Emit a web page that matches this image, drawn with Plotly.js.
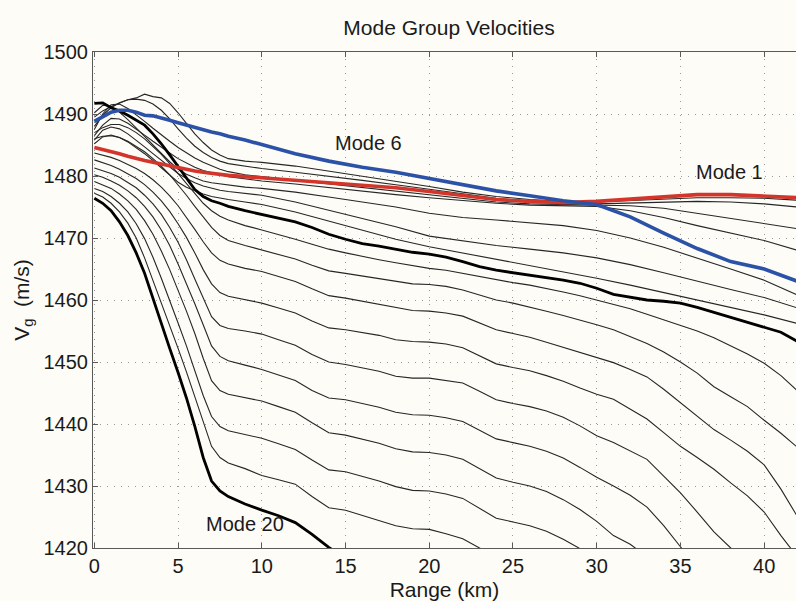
<!DOCTYPE html>
<html>
<head>
<meta charset="utf-8">
<script src="https://cdn.plot.ly/plotly-3.0.1.min.js"></script>
<style>html,body{margin:0;padding:0;background:#fdfcf7;}#chart{width:796px;height:601px;}</style>
</head>
<body>
<div id="chart"></div>
<script>
// Range grids (km)
const rangeFine = [0,0.5,1,1.5,2,2.5,3,3.5,4,4.5,5,5.5,6,6.5,7,7.5,8,9,10,11,12,13,14,15,16,17,18,19,20,21,22,23,24,25,26,27,28,29,30,31,32,33,34,35,36,37,38,39,40,41,42];
const rangeCoarse = [0,0.5,1,1.5,2,2.5,3,3.5,4,4.5,5,5.5,6,6.5,7,7.5,8,9,10,12,14,16,18,20,22,24,26,28,30,32,34,36,38,40,42];

// Group velocities (m/s) on rangeCoarse
const mode1 = [1484.6,1484.3,1484.0,1483.6,1483.2,1482.8,1482.5,1482.2,1481.9,1481.6,1481.3,1481.0,1480.8,1480.6,1480.4,1480.2,1480.1,1479.9,1479.7,1479.4,1479.0,1478.6,1478.1,1477.5,1476.8,1476.2,1475.9,1475.7,1475.9,1476.3,1476.7,1477.0,1477.0,1476.8,1476.5];
const mode6 = [1488.8,1489.6,1490.3,1490.6,1490.6,1490.3,1489.8,1489.7,1489.4,1489.0,1488.6,1488.2,1487.9,1487.5,1487.1,1486.8,1486.4,1485.8,1485.1,1483.6,1482.4,1481.4,1480.6,1479.6,1478.6,1477.6,1476.8,1476.0,1475.4,1473.4,1470.8,1468.3,1466.2,1465.0,1463.0];
const mode2 = [1489.5,1490.5,1491.2,1491.8,1492.3,1492.6,1493.2,1492.8,1492.6,1491.7,1490.2,1488.5,1486.8,1485.4,1484.2,1483.4,1482.8,1482.4,1482.2,1481.6,1480.8,1480.0,1479.2,1478.3,1477.4,1476.7,1476.2,1475.9,1475.8,1476.0,1476.3,1476.5,1476.5,1476.4,1476.1];
const mode3 = [1488.0,1489.8,1491.0,1491.8,1492.3,1492.4,1492.2,1491.6,1490.6,1489.2,1487.6,1486.1,1484.8,1483.8,1483.0,1482.4,1482.0,1481.6,1481.2,1480.6,1480.0,1479.3,1478.6,1477.9,1477.1,1476.4,1475.9,1475.6,1475.5,1475.6,1475.8,1475.9,1475.8,1475.5,1475.0];
const mode4 = [1487.5,1490.0,1491.5,1491.6,1490.9,1489.9,1488.8,1487.7,1486.6,1485.6,1484.6,1483.7,1482.9,1482.2,1481.6,1481.1,1480.7,1480.2,1479.9,1479.3,1478.7,1478.1,1477.5,1476.9,1476.3,1475.8,1475.5,1475.4,1475.3,1475.2,1474.8,1474.0,1473.2,1472.4,1471.5];
const mode5 = [1486.5,1488.2,1489.3,1489.2,1488.5,1487.6,1486.6,1485.6,1484.6,1483.7,1482.8,1482.1,1481.4,1480.9,1480.5,1480.2,1479.9,1479.5,1479.2,1478.7,1478.1,1477.5,1477.0,1476.5,1476.0,1475.6,1475.3,1475.2,1475.1,1474.4,1473.3,1472.0,1470.8,1469.6,1468.0];
const mode7 = [1490.2,1491.4,1491.2,1490.3,1489.1,1487.8,1486.4,1485.0,1483.6,1482.3,1481.1,1480.3,1479.7,1479.2,1478.9,1478.7,1478.5,1478.2,1478.0,1477.4,1476.6,1475.8,1475.0,1474.0,1473.3,1472.9,1472.5,1472.0,1471.2,1470.0,1468.5,1466.8,1465.0,1463.2,1460.8];
const mode8 = [1485.8,1487.4,1487.9,1487.6,1486.8,1485.8,1484.7,1483.6,1482.5,1481.4,1480.4,1479.6,1478.9,1478.4,1478.0,1477.7,1477.5,1477.2,1476.9,1475.8,1474.5,1473.2,1471.8,1470.3,1469.5,1468.8,1468.2,1467.6,1466.8,1465.7,1464.4,1463.0,1461.7,1460.4,1458.7];
const mode9 = [1485.2,1486.3,1486.6,1486.2,1485.5,1484.6,1483.6,1482.5,1481.3,1480.1,1479.0,1478.2,1477.6,1477.1,1476.7,1476.4,1476.2,1475.8,1475.4,1474.2,1472.7,1471.3,1469.8,1468.6,1467.6,1466.6,1465.6,1464.6,1463.5,1462.4,1461.2,1460.0,1458.8,1457.6,1456.2];

// Group velocities (m/s) on rangeFine
const mode10 = [1491.7,1491.8,1491.0,1490.5,1489.8,1489.0,1488.2,1486.8,1485.2,1483.4,1481.5,1479.6,1477.8,1476.7,1476.0,1475.6,1475.1,1474.4,1473.8,1473.2,1472.6,1471.7,1470.6,1469.8,1469.1,1468.7,1468.2,1467.7,1467.4,1466.9,1466.2,1465.4,1464.8,1464.4,1464.0,1463.7,1463.2,1462.7,1461.9,1460.9,1460.4,1460.0,1459.8,1459.5,1458.8,1458.0,1457.2,1456.5,1455.7,1454.8,1453.3];
const mode11 = [1487.0,1487.8,1488.3,1488.3,1487.8,1487.0,1486.0,1484.8,1483.5,1482.0,1480.4,1478.8,1477.1,1475.6,1474.4,1473.5,1472.9,1472.0,1471.3,1470.6,1469.8,1469.0,1468.2,1467.6,1467.0,1466.5,1466.0,1465.5,1465.1,1464.8,1464.3,1463.7,1463.2,1462.8,1462.4,1461.9,1461.3,1460.7,1460.0,1459.3,1458.6,1457.7,1456.8,1455.9,1455.0,1453.9,1452.6,1451.3,1449.8,1447.8,1445.3];
const mode12 = [1486.0,1486.4,1486.5,1486.2,1485.6,1484.8,1483.9,1482.8,1481.6,1480.2,1478.6,1476.9,1475.1,1473.3,1471.7,1470.4,1469.6,1468.8,1468.1,1467.4,1466.6,1465.6,1464.7,1464.3,1463.9,1463.5,1463.0,1462.6,1462.5,1462.2,1461.6,1460.8,1460.0,1459.5,1458.9,1458.2,1457.5,1456.8,1456.0,1455.2,1454.1,1453.0,1451.6,1450.0,1448.2,1446.0,1444.4,1442.8,1440.6,1438.5,1436.2];
const mode13 = [1483.7,1483.4,1483.0,1482.5,1481.9,1481.2,1480.4,1479.4,1478.2,1476.8,1475.2,1473.4,1471.4,1469.4,1467.6,1466.4,1465.8,1465.1,1464.6,1463.8,1463.0,1461.8,1460.7,1460.3,1459.8,1459.3,1458.7,1458.3,1458.2,1457.9,1457.4,1456.3,1455.2,1454.6,1454.0,1453.2,1452.4,1451.6,1450.7,1449.9,1448.8,1447.6,1445.6,1443.4,1441.2,1439.1,1437.4,1435.6,1433.4,1429.5,1425.0];
const mode14 = [1482.6,1482.2,1481.7,1481.1,1480.4,1479.6,1478.6,1477.4,1476.0,1474.3,1472.3,1470.1,1467.6,1464.9,1462.6,1461.2,1460.6,1460.0,1459.5,1458.7,1457.9,1456.6,1455.5,1455.2,1454.8,1454.3,1453.6,1453.3,1453.2,1452.9,1452.3,1451.0,1449.7,1449.1,1448.6,1447.8,1446.9,1445.8,1444.8,1444.0,1442.4,1440.8,1438.6,1436.4,1434.6,1432.7,1430.5,1428.4,1425.8,1422.0,1418.5];
const mode15 = [1481.3,1480.9,1480.4,1479.8,1479.0,1478.1,1476.9,1475.5,1473.8,1471.7,1469.3,1466.5,1463.4,1460.2,1457.3,1455.9,1455.4,1455.0,1454.5,1453.6,1452.7,1451.2,1450.0,1449.6,1449.1,1448.5,1447.7,1447.4,1447.4,1447.0,1446.6,1445.3,1443.9,1443.3,1442.8,1442.1,1441.1,1439.7,1438.1,1437.0,1435.6,1434.3,1431.6,1428.9,1425.8,1422.6,1420.0,1417.0,null,null,null];
const mode16 = [1480.2,1479.8,1479.2,1478.5,1477.6,1476.5,1475.1,1473.4,1471.3,1468.8,1465.8,1462.7,1459.4,1456.0,1452.6,1450.9,1450.2,1449.5,1448.8,1447.9,1447.0,1445.4,1444.2,1443.9,1443.3,1442.7,1441.9,1441.5,1441.4,1441.0,1440.4,1439.0,1437.6,1437.0,1436.4,1435.6,1434.5,1433.0,1431.4,1430.0,1428.5,1426.6,1423.6,1420.2,1417.0,null,null,null,null,null,null];
const mode17 = [1479.1,1478.6,1478.0,1477.1,1476.0,1474.6,1472.8,1470.6,1467.9,1464.9,1461.6,1458.2,1454.6,1450.6,1447.0,1445.4,1444.8,1444.2,1443.7,1442.8,1441.9,1440.2,1438.6,1438.2,1437.6,1436.9,1436.0,1435.5,1435.4,1435.0,1434.3,1432.8,1431.3,1430.6,1430.0,1429.1,1427.8,1426.2,1424.3,1422.0,1420.6,1418.6,null,null,null,null,null,null,null,null,null];
const mode18 = [1478.0,1477.5,1476.7,1475.6,1474.2,1472.3,1469.9,1466.9,1463.5,1460.0,1456.3,1452.6,1448.6,1444.6,1441.2,1439.6,1438.9,1438.3,1437.7,1436.8,1435.9,1434.2,1432.6,1432.3,1431.6,1430.8,1429.9,1429.3,1429.2,1428.7,1428.0,1426.4,1424.8,1424.2,1423.6,1422.7,1421.4,1419.9,1418.2,null,null,null,null,null,null,null,null,null,null,null,null];
const mode19 = [1477.2,1476.6,1475.6,1474.2,1472.4,1470.0,1466.8,1463.2,1459.4,1455.8,1452.2,1448.4,1444.4,1440.2,1436.4,1434.6,1433.7,1432.8,1431.7,1431.0,1430.3,1428.3,1426.5,1426.1,1425.3,1424.5,1423.6,1423.1,1423.0,1422.3,1421.5,1420.0,1418.5,null,null,null,null,null,null,null,null,null,null,null,null,null,null,null,null,null,null];
const mode20 = [1476.4,1475.6,1474.4,1472.6,1470.4,1467.6,1464.3,1460.2,1456.0,1452.2,1448.3,1444.2,1439.6,1434.6,1430.8,1429.2,1428.3,1427.1,1426.1,1425.2,1424.1,1422.2,1420.1,1418.3,null,null,null,null,null,null,null,null,null,null,null,null,null,null,null,null,null,null,null,null,null,null,null,null,null,null,null];

const xTicks = [0,5,10,15,20,25,30,35,40];
const yTicks = [1420,1430,1440,1450,1460,1470,1480,1490,1500];
const labels = [
  {text:'Mode 6', x:16.35, y:1485.4},
  {text:'Mode 1', x:37.9, y:1480.6},
  {text:'Mode 20', x:8.97, y:1423.8}
];

const thin = '#262626', FONT = 'Liberation Sans, Arial, Helvetica, sans-serif';
function tr(name, x, y, color, width) {
  return {type:'scatter', mode:'lines', name:name, x:x, y:y, line:{color:color, width:width}, hoverinfo:'name+x+y', connectgaps:false};
}
const traces = [
  tr('Mode 2', rangeCoarse, mode2, thin, 1.1),
  tr('Mode 3', rangeCoarse, mode3, thin, 1.1),
  tr('Mode 4', rangeCoarse, mode4, thin, 1.1),
  tr('Mode 5', rangeCoarse, mode5, thin, 1.1),
  tr('Mode 7', rangeCoarse, mode7, thin, 1.1),
  tr('Mode 8', rangeCoarse, mode8, thin, 1.1),
  tr('Mode 9', rangeCoarse, mode9, thin, 1.1),
  tr('Mode 11', rangeFine, mode11, thin, 1.1),
  tr('Mode 12', rangeFine, mode12, thin, 1.1),
  tr('Mode 13', rangeFine, mode13, thin, 1.1),
  tr('Mode 14', rangeFine, mode14, thin, 1.1),
  tr('Mode 15', rangeFine, mode15, thin, 1.1),
  tr('Mode 16', rangeFine, mode16, thin, 1.1),
  tr('Mode 17', rangeFine, mode17, thin, 1.1),
  tr('Mode 18', rangeFine, mode18, thin, 1.1),
  tr('Mode 19', rangeFine, mode19, thin, 1.1),
  tr('Mode 10', rangeFine, mode10, '#000000', 2.8),
  tr('Mode 20', rangeFine, mode20, '#000000', 2.8),
  tr('Mode 1', rangeCoarse, mode1, '#d3352b', 3.6),
  tr('Mode 6', rangeCoarse, mode6, '#2c52a8', 3.6)
];

const axisCommon = {
  showline:true, linecolor:'#5a5a5a', linewidth:1.2,
  ticks:'inside', ticklen:5, tickcolor:'#5a5a5a', tickwidth:1.2,
  showgrid:true, gridcolor:'#9a9a9a', gridwidth:1, griddash:'1px,6px',
  zeroline:false, tickfont:{family:FONT, size:20, color:'#1a1a1a'}
};
const layout = {
  width:796, height:601,
  margin:{l:93, r:0, t:52, b:53},
  paper_bgcolor:'#fdfcf7', plot_bgcolor:'#fdfcf7',
  showlegend:false,
  title:{text:'Mode Group Velocities', font:{family:FONT, size:21, color:'#1a1a1a'},
         x:449/796, xanchor:'center', xref:'container', y:1-28/601, yanchor:'middle', yref:'container'},
  xaxis:Object.assign({}, axisCommon, {
    range:[-0.08, 41.9], tickvals:xTicks, ticktext:xTicks.map(String), mirror:'ticks',
    title:{text:'Range (km)', font:{family:FONT, size:21, color:'#1a1a1a'}, standoff:8}
  }),
  yaxis:Object.assign({}, axisCommon, {
    range:[1420, 1500], tickvals:yTicks, ticktext:yTicks.map(String), mirror:false,
    title:{text:'V<sub>g</sub>  (m/s)', font:{family:FONT, size:21, color:'#1a1a1a'}, standoff:8}
  }),
  annotations: labels.map(l => ({text:l.text, x:l.x, y:l.y, xref:'x', yref:'y', showarrow:false,
    font:{family:FONT, size:20, color:'#1a1a1a'}, xanchor:'center', yanchor:'middle'}))
};
Plotly.newPlot('chart', traces, layout, {displayModeBar:false, responsive:false});
</script>
</body>
</html>
